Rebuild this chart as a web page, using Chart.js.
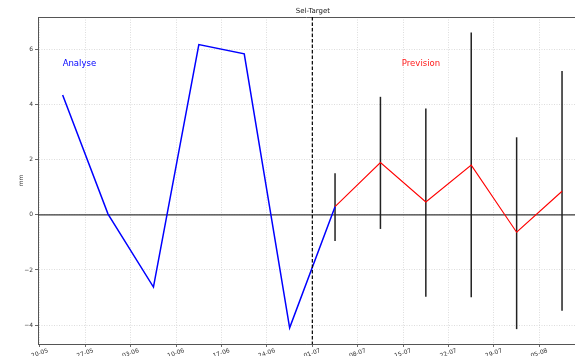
<!DOCTYPE html>
<html>
<head>
<meta charset="utf-8">
<script src="https://cdn.jsdelivr.net/npm/chart.js@4/dist/chart.umd.min.js"></script>
<style>
  html, body { margin: 0; padding: 0; background: #fff; }
  #wrap { width: 575px; height: 356px; }
</style>
</head>
<body>
<div id="wrap"><canvas id="chart" width="575" height="356"></canvas></div>
<script>
// days counted from 20-05
const tickDays = [0, 7, 14, 21, 28, 35, 42, 49, 56, 63, 70, 77];
const tickLabels = ['20-05', '27-05', '03-06', '10-06', '17-06', '24-06', '01-07', '08-07', '15-07', '22-07', '29-07', '05-08'];
const yTicks = [-4, -2, 0, 2, 4, 6];

const analyseDays = [3.5, 10.5, 17.5, 24.5, 31.5, 38.5, 45.5];
const analyseValues = [4.36, 0.03, -2.62, 6.19, 5.85, -4.1, 0.3];

const previsionDays = [45.5, 52.5, 59.5, 66.5, 73.5, 80.5];
const previsionValues = [0.3, 1.9, 0.47, 1.81, -0.63, 0.86];
const previsionLow = [-0.95, -0.51, -2.97, -2.99, -4.15, -3.48];
const previsionHigh = [1.51, 4.29, 3.87, 6.63, 2.82, 5.23];

const splitDay = 42;
const titleText = 'Sel-Target';

const font = 'DejaVu Sans';

const overlay = {
    id: 'overlay',
    beforeDatasetsDraw(chart) {
        const { ctx, chartArea, scales } = chart;
        const x = scales.x, y = scales.y;
        ctx.save();
        // top spine
        ctx.strokeStyle = '#555';
        ctx.lineWidth = 1;
        ctx.beginPath();
        ctx.moveTo(chartArea.left, chartArea.top + 0.5);
        ctx.lineTo(chartArea.right, chartArea.top + 0.5);
        ctx.stroke();
        // zero line
        ctx.strokeStyle = '#3a3a3a';
        ctx.lineWidth = 1.4;
        ctx.beginPath();
        ctx.moveTo(chartArea.left, y.getPixelForValue(0));
        ctx.lineTo(chartArea.right, y.getPixelForValue(0));
        ctx.stroke();
        // error bars
        ctx.strokeStyle = '#222';
        ctx.lineWidth = 1.5;
        previsionDays.forEach((d, i) => {
            const px = x.getPixelForValue(d);
            ctx.beginPath();
            ctx.moveTo(px, y.getPixelForValue(previsionLow[i]));
            ctx.lineTo(px, y.getPixelForValue(previsionHigh[i]));
            ctx.stroke();
        });
        ctx.restore();
    },
    afterDatasetsDraw(chart) {
        const { ctx, chartArea, scales } = chart;
        const x = scales.x, y = scales.y;
        ctx.save();
        // split line
        ctx.strokeStyle = '#000';
        ctx.lineWidth = 1.2;
        ctx.setLineDash([3.5, 2]);
        const sx = x.getPixelForValue(splitDay);
        ctx.beginPath();
        ctx.moveTo(sx, chartArea.top);
        ctx.lineTo(sx, chartArea.bottom);
        ctx.stroke();
        ctx.setLineDash([]);
        // labels
        ctx.font = '8.5px "' + font + '"';
        ctx.textBaseline = 'middle';
        ctx.textAlign = 'left';
        ctx.fillStyle = '#0000ff';
        ctx.fillText('Analyse', x.getPixelForValue(3.5), y.getPixelForValue(5.5));
        ctx.fillStyle = '#ff1a1a';
        ctx.fillText('Prevision', x.getPixelForValue(55.8), y.getPixelForValue(5.5));
        // title, centred over the full axes (which run past the right edge)
        ctx.font = '7px "' + font + '"';
        ctx.textAlign = 'center';
        ctx.textBaseline = 'bottom';
        ctx.fillStyle = '#222';
        ctx.fillText(titleText, x.getPixelForValue(42.1), chartArea.top - 2);
        ctx.restore();
    }
};

new Chart(document.getElementById('chart'), {
    type: 'scatter',
    data: {
        datasets: [
            {
                label: 'Analyse',
                data: analyseDays.map((d, i) => ({ x: d, y: analyseValues[i] })),
                showLine: true,
                borderColor: '#0000ff',
                borderWidth: 1.5,
                pointRadius: 0
            },
            {
                label: 'Prevision',
                data: previsionDays.map((d, i) => ({ x: d, y: previsionValues[i] })),
                showLine: true,
                borderColor: '#ff0000',
                borderWidth: 1.1,
                pointRadius: 0
            }
        ]
    },
    options: {
        responsive: false,
        animation: false,
        layout: { padding: { left: 0, right: 0, top: 17, bottom: 0 } },
        plugins: {
            legend: { display: false },
            tooltip: { enabled: false },
            title: { display: false }
        },
        scales: {
            x: {
                type: 'linear',
                min: -0.3,
                max: 82.5,
                afterBuildTicks: scale => { scale.ticks = tickDays.map(v => ({ value: v })); },
                afterFit: scale => { scale.height = 12; },
                ticks: {
                    autoSkip: false,
                    maxRotation: 20,
                    minRotation: 20,
                    padding: 0,
                    labelOffset: 8,
                    color: '#333',
                    font: { family: font, size: 6 },
                    callback: (v, i) => tickLabels[i]
                },
                grid: { color: '#d4d4d4', lineWidth: 0.8, tickLength: 3, tickColor: '#444' },
                border: { color: '#555', width: 1, dash: [1, 1.5] }
            },
            y: {
                min: -4.69,
                max: 7.19,
                afterBuildTicks: scale => { scale.ticks = yTicks.map(v => ({ value: v })); },
                afterFit: scale => { scale.width = 38; },
                ticks: {
                    color: '#333',
                    padding: 2,
                    font: { family: font, size: 6 },
                    callback: v => (v < 0 ? '\u2212' + Math.abs(v) : String(v))
                },
                title: {
                    display: true,
                    text: 'mm',
                    color: '#333',
                    font: { family: font, size: 6 },
                    padding: { top: 18, bottom: 0 }
                },
                grid: { color: '#d4d4d4', lineWidth: 0.8, tickLength: 3, tickColor: '#444' },
                border: { color: '#555', width: 1, dash: [1, 1.5] }
            }
        }
    },
    plugins: [overlay]
});
</script>
</body>
</html>
